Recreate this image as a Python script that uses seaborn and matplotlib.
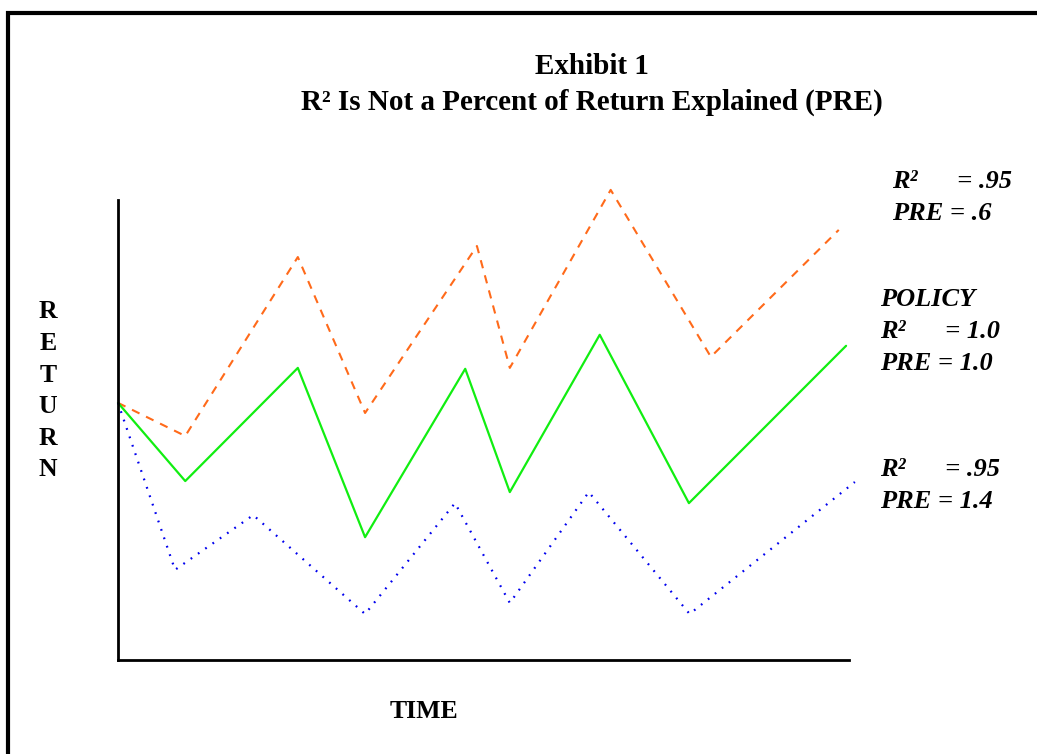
import matplotlib
matplotlib.use("Agg")
import matplotlib.pyplot as plt
import seaborn as sns
import pandas as pd
from matplotlib.patches import Rectangle

# series (time, return), arbitrary units 0-10
high_time = [0, 0.92, 2.46, 3.38, 4.91, 5.36, 6.74, 8.11, 9.86]
high_ret = [5.59, 4.87, 8.76, 5.37, 9.0, 6.35, 10.22, 6.59, 9.35]

policy_time = [0, 0.92, 2.46, 3.38, 4.75, 5.36, 6.59, 7.81, 9.96]
policy_ret = [5.59, 3.89, 6.35, 2.67, 6.33, 3.65, 7.07, 3.41, 6.83]

low_time = [0, 0.78, 1.85, 3.38, 4.61, 5.36, 6.44, 7.82, 10.08]
low_ret = [5.59, 1.96, 3.15, 1.0, 3.41, 1.24, 3.65, 1.0, 3.87]

title_lines = ["Exhibit 1", "R\u00b2 Is Not a Percent of Return Explained (PRE)"]
high_label = ["R\u00b2      = .95", "PRE = .6"]
policy_label = ["POLICY", "R\u00b2      = 1.0", "PRE = 1.0"]
low_label = ["R\u00b2      = .95", "PRE = 1.4"]

sns.set_style("white")
plt.rcParams['font.family'] = ['Liberation Serif', 'DejaVu Serif']
plt.rcParams['text.color'] = 'black'

fig = plt.figure(figsize=(10.37, 7.54), dpi=100)
ax = fig.add_axes([118/1037, 94/754, 731/1037, 460/754])

df_high = pd.DataFrame({'t': high_time, 'r': high_ret})
df_pol = pd.DataFrame({'t': policy_time, 'r': policy_ret})
df_low = pd.DataFrame({'t': low_time, 'r': low_ret})

sns.lineplot(data=df_high, x='t', y='r', sort=False, color='#ff6a1a', lw=1.5,
             ax=ax, clip_on=False, linestyle=(0, (4, 3.5)))
sns.lineplot(data=df_pol, x='t', y='r', sort=False, color='#11ee11', lw=1.6,
             ax=ax, clip_on=False)
sns.lineplot(data=df_low, x='t', y='r', sort=False, color='#0000ee', lw=1.6,
             ax=ax, clip_on=False, linestyle=(0, (0.8, 3.2)))

ax.set_xlim(0, 10)
ax.set_ylim(0, 10)
ax.set_xticks([])
ax.set_yticks([])
ax.set_xlabel('')
ax.set_ylabel('')
sns.despine(ax=ax)
for s in ['left', 'bottom']:
    ax.spines[s].set_color('black')
    ax.spines[s].set_linewidth(2)
ax.patch.set_alpha(0)

# outer frame
fig.patches.append(Rectangle((8/1037, -0.2), 1.2, 1 - 13/754 + 0.2,
                             transform=fig.transFigure, fill=False,
                             edgecolor='black', lw=3, zorder=0))

fig.text(592/1037, 1 - 66/754, title_lines[0], ha='center', va='center',
         fontsize=21, fontweight='bold', color='black')
fig.text(592/1037, 1 - 102/754, title_lines[1], ha='center', va='center',
         fontsize=21, fontweight='bold', color='black')

def block(lines, x, y0, step=32):
    for i, s in enumerate(lines):
        fig.text(x/1037, 1 - (y0 + i*step)/754, s, ha='left', va='center',
                 fontsize=19, fontweight='bold', style='italic', color='black')

block(high_label, 892, 181)
block(policy_label, 880, 300, 31.5)
block(low_label, 880, 470, 31)

for i, ch in enumerate("RETURN"):
    fig.text(48/1037, 1 - (312 + i*31.6)/754, ch, ha='center', va='center',
             fontsize=18.5, fontweight='bold', color='black')

fig.text(424/1037, 1 - 711/754, "TIME", ha='center', va='center',
         fontsize=18.5, fontweight='bold', color='black')

fig.savefig("out.png", dpi=100)
